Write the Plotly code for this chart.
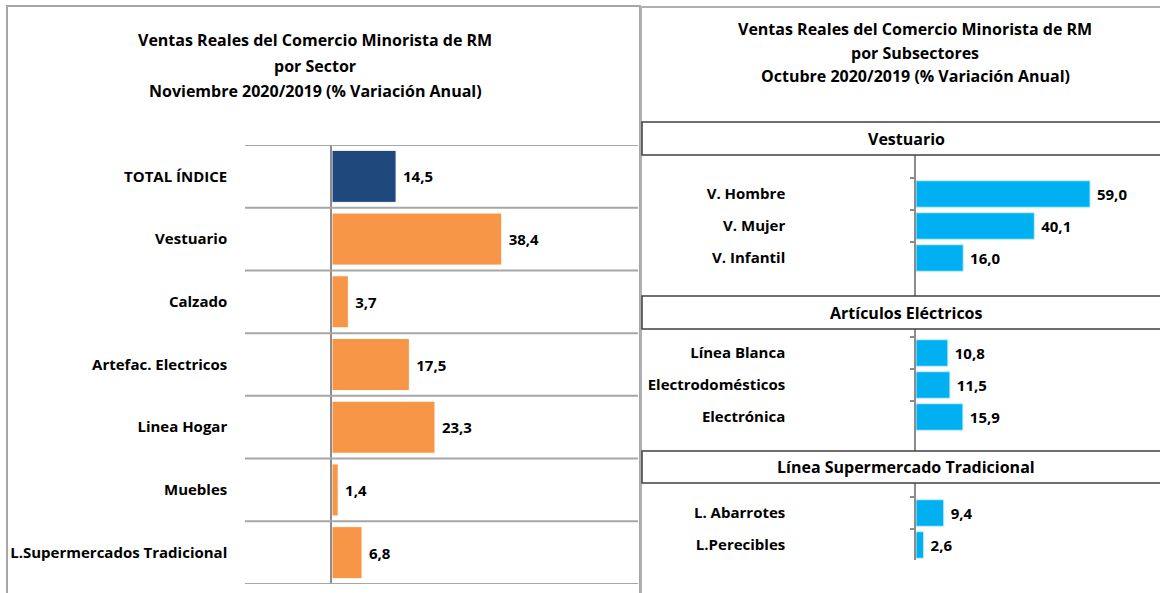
import plotly.graph_objects as go

W, H = 1160, 593

# ---------------- data ----------------
sector_labels = ["TOTAL ÍNDICE", "Vestuario", "Calzado", "Artefac. Electricos",
                 "Linea Hogar", "Muebles", "L.Supermercados Tradicional"]
sector_values = [14.5, 38.4, 3.7, 17.5, 23.3, 1.4, 6.8]

left_title = ["Ventas Reales del Comercio Minorista de RM", "por Sector",
              "Noviembre 2020/2019 (% Variación Anual)"]
right_title = ["Ventas Reales del Comercio Minorista de RM", "por Subsectores",
               "Octubre 2020/2019 (% Variación Anual)"]

group_names = ["Vestuario", "Artículos Eléctricos", "Línea Supermercado Tradicional"]
vest_labels = ["V. Hombre", "V. Mujer", "V. Infantil"]
vest_values = [59.0, 40.1, 16.0]
elec_labels = ["Línea Blanca", "Electrodomésticos", "Electrónica"]
elec_values = [10.8, 11.5, 15.9]
super_labels = ["L. Abarrotes", "L.Perecibles"]
super_values = [9.4, 2.6]

# ---------------- style ----------------
FONT = "Open Sans, sans-serif"
BLUE_DARK = "#1F497D"
ORANGE = "#F79646"
CYAN = "#00B0F0"
GRID = "#A6A6A6"
AXIS = "#8C8C8C"


def px(x):
    return x / W


def py(y):
    return 1 - y / H


fig = go.Figure()

valfont = dict(family=FONT, size=15, color="black", weight="bold")

# left chart bars
fig.add_trace(go.Bar(
    y=sector_labels, x=sector_values, orientation="h",
    marker=dict(color=[BLUE_DARK] + [ORANGE] * (len(sector_values) - 1),
                line=dict(color="white", width=1)),
    texttemplate="\u00a0%{x:.1f}", textposition="outside", cliponaxis=False,
    constraintext="none", textfont=valfont,
    xaxis="x", yaxis="y", hoverinfo="skip", showlegend=False,
))

# right chart bars (three groups)
groups = [(vest_labels, vest_values), (elec_labels, elec_values), (super_labels, super_values)]
for i, (labs, vals) in enumerate(groups):
    n = str(i + 2)
    fig.add_trace(go.Bar(
        y=labs, x=vals, orientation="h",
        marker=dict(color=CYAN, line=dict(color="#BFEFFF", width=1)),
        texttemplate="\u00a0%{x:.1f}", textposition="outside", cliponaxis=False,
        constraintext="none", textfont=valfont,
        xaxis="x" + n, yaxis="y" + n, hoverinfo="skip", showlegend=False,
    ))

tickfont = dict(family=FONT, size=15, color="black", weight="bold")

layout = dict(
    width=W, height=H,
    margin=dict(l=0, r=0, t=0, b=0),
    paper_bgcolor="white", plot_bgcolor="white",
    separators=",.",
    bargap=0.17,
    font=dict(family=FONT, color="black"),
    xaxis=dict(domain=[px(332), px(637)], range=[0, 69], showticklabels=False,
               showgrid=False, zeroline=False, showline=False, fixedrange=True),
    yaxis=dict(domain=[py(584), py(145)], type="category",
               range=[len(sector_labels) - 0.5, -0.5],
               showline=True, linecolor=AXIS, linewidth=1.5, ticks="",
               showgrid=False, zeroline=False, tickfont=tickfont,
               ticklabelstandoff=100, fixedrange=True),
)

# right sub-plot geometry (pixels): axis top, axis bottom, first category center
right_geom = [(155, 296, 194), (329, 451, 353), (483, 560, 513)]
ROW = 32.0
for i, ((top, bot, c0), (labs, vals)) in enumerate(zip(right_geom, groups)):
    n = str(i + 2)
    layout["xaxis" + n] = dict(domain=[px(916), 1.0], range=[0, 82.7], anchor="y" + n,
                               showticklabels=False, showgrid=False, zeroline=False,
                               showline=False, fixedrange=True)
    layout["yaxis" + n] = dict(domain=[py(bot), py(top)], type="category", anchor="x" + n,
                               range=[(bot - c0) / ROW, (top - c0) / ROW],
                               categoryorder="array", categoryarray=labs,
                               showline=True, linecolor=AXIS, linewidth=1.5,
                               ticks="outside", ticklen=4, tickcolor=AXIS, tickwidth=1.5,
                               tickson="boundaries", showgrid=False, zeroline=False,
                               tickfont=tickfont, ticklabelstandoff=126, fixedrange=True)

fig.update_layout(**layout)

shapes = []
# panel borders
shapes.append(dict(type="rect", xref="paper", yref="paper", x0=px(7), x1=px(640),
                   y0=py(620), y1=py(6), line=dict(color=GRID, width=2)))
shapes.append(dict(type="rect", xref="paper", yref="paper", x0=px(641), x1=px(1180),
                   y0=py(620), y1=py(7), line=dict(color="#B0B0B0", width=2)))
# left category separators
for k in range(len(sector_labels) + 1):
    shapes.append(dict(type="line", xref="paper", yref="y", x0=px(245), x1=px(638),
                       y0=k - 0.5, y1=k - 0.5, line=dict(color=GRID, width=2)))
# right section header boxes
header_boxes = [(122, 155), (296, 329), (451, 483)]
annotations = []
for name, (t, b) in zip(group_names, header_boxes):
    shapes.append(dict(type="rect", xref="paper", yref="paper", x0=px(642), x1=px(1180),
                       y0=py(b), y1=py(t), line=dict(color="#404040", width=1.5)))
    annotations.append(dict(text=name, xref="paper", yref="paper", x=px(906), y=py((t + b) / 2),
                            xanchor="center", yanchor="middle", showarrow=False,
                            font=dict(family=FONT, size=16, color="black", weight="bold")))

titlefont = dict(family=FONT, size=16, color="black", weight="bold")
for line, y in zip(left_title, [40, 66, 91]):
    annotations.append(dict(text=line, xref="paper", yref="paper", x=px(315), y=py(y),
                            xanchor="center", yanchor="middle", showarrow=False, font=titlefont))
for line, y in zip(right_title, [29, 53, 76]):
    annotations.append(dict(text=line, xref="paper", yref="paper", x=px(915), y=py(y),
                            xanchor="center", yanchor="middle", showarrow=False, font=titlefont))

fig.update_layout(shapes=shapes, annotations=annotations)
fig.write_html("out.html", config={"displayModeBar": False},
               post_script="document.body.style.margin='0';document.body.style.overflow='hidden';")
